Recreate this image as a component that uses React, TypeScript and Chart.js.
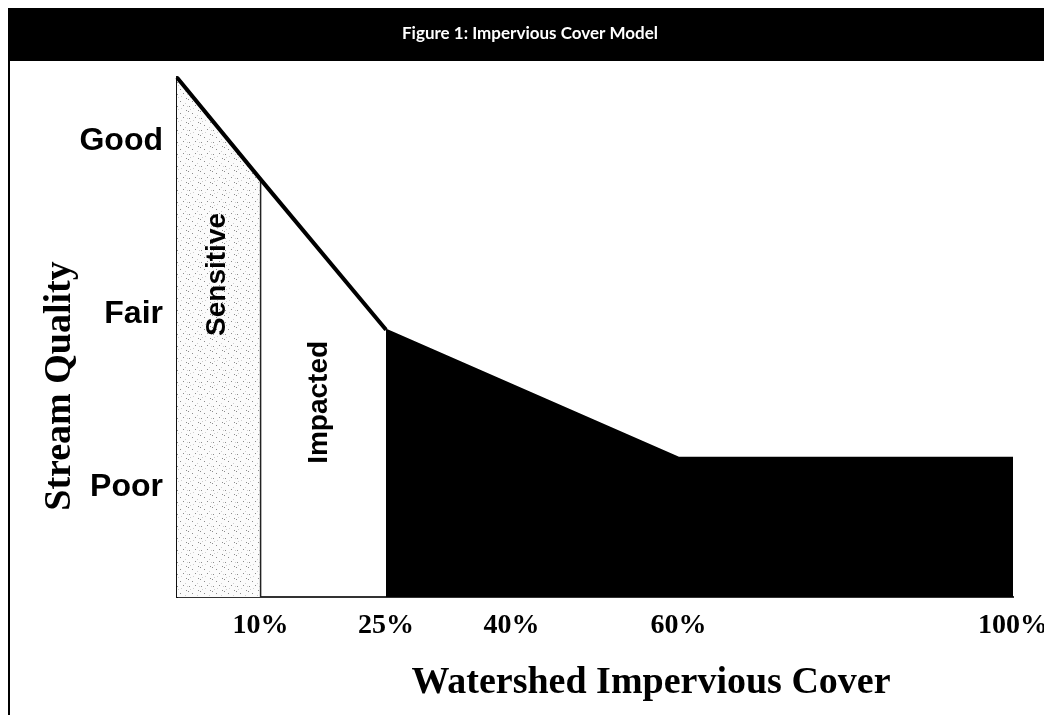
import React, { useEffect, useRef } from "react";
import { Chart, registerables } from "chart.js";

Chart.register(...registerables);

// ---- data ----
const figureTitle = "Figure 1: Impervious Cover Model";
const xAxisTitle = "Watershed Impervious Cover";
const yAxisTitle = "Stream Quality";

const imperviousPct = [0, 10, 25, 60, 100];
const streamQuality = [3.37, 2.78, 1.91, 1.17, 1.17];

const xTickValues = [10, 25, 40, 60, 100];
const qualityTickValues = [1, 2, 3];
const qualityTickNames = ["Poor", "Fair", "Good"];

const zoneNames = ["Sensitive", "Impacted"];
const zoneLabelPct = [4.8, 17.0];
const zoneLabelQuality = [2.23, 1.49];

const qualityMin = 0.364;
const qualityMax = 3.37;

const SERIF = '"Liberation Serif", "Times New Roman", serif';
const SANS = '"Liberation Sans", Arial, sans-serif';

function makeStipple(): CanvasPattern | string {
  const c = document.createElement("canvas");
  c.width = 12;
  c.height = 12;
  const g = c.getContext("2d");
  if (!g) return "#f4f4f4";
  g.fillStyle = "#fbfbfb";
  g.fillRect(0, 0, 12, 12);
  g.fillStyle = "#8c8c8c";
  [[1, 2], [7, 1], [10, 6], [4, 9], [0, 7]].forEach(([x, y]) => g.fillRect(x, y, 1, 1));
  g.fillStyle = "#cfcfcf";
  [[5, 4], [9, 11], [2, 5], [11, 2]].forEach(([x, y]) => g.fillRect(x, y, 1, 1));
  const p = g.createPattern(c, "repeat");
  return p || "#f4f4f4";
}

const framePlugin = {
  id: "frame",
  beforeDraw(chart: any) {
    const { ctx, width, height } = chart;
    ctx.save();
    ctx.fillStyle = "#ffffff";
    ctx.fillRect(0, 0, width, height);
    ctx.fillStyle = "#000000";
    ctx.fillRect(0, 0, width, 53);
    ctx.fillRect(0, 0, 2, height);
    ctx.restore();
  },
  afterDatasetsDraw(chart: any) {
    const { ctx } = chart;
    const xs = chart.scales.x;
    const ys = chart.scales.y;
    ctx.save();
    ctx.fillStyle = "#000";
    ctx.font = `bold 28px ${SANS}`;
    ctx.textAlign = "center";
    ctx.textBaseline = "middle";
    zoneNames.forEach((name, i) => {
      const px = xs.getPixelForValue(zoneLabelPct[i]);
      const py = ys.getPixelForValue(zoneLabelQuality[i]);
      ctx.save();
      ctx.translate(px, py);
      ctx.rotate(-Math.PI / 2);
      ctx.fillText(name, 0, 0);
      ctx.restore();
    });
    ctx.restore();
  },
  afterDraw(chart: any) {
    const { ctx } = chart;
    ctx.save();
    ctx.fillStyle = "#000";
    ctx.font = `bold 38px ${SERIF}`;
    ctx.textAlign = "center";
    ctx.textBaseline = "alphabetic";
    ctx.fillText(xAxisTitle, 643, 685);
    ctx.translate(62, 378);
    ctx.rotate(-Math.PI / 2);
    ctx.fillText(yAxisTitle, 0, 0);
    ctx.restore();
  },
};

export default function App() {
  const ref = useRef<HTMLCanvasElement | null>(null);

  useEffect(() => {
    if (!ref.current) return;
    const pts = imperviousPct.map((x, i) => ({ x, y: streamQuality[i] }));
    const sensitivePts = pts.slice(0, 2);
    const linePts = pts.slice(0, 3);
    const degradedPts = pts.slice(2);
    const dividerPts = [
      { x: pts[1].x, y: qualityMin },
      { x: pts[1].x, y: pts[1].y },
    ];

    const chart = new Chart(ref.current, {
      type: "line",
      data: {
        datasets: [
          {
            label: "Quality",
            data: linePts,
            borderColor: "#000",
            borderWidth: 4,
            pointRadius: 0,
            fill: false,
            tension: 0,
            order: 0,
            clip: false as any,
          },
          {
            label: "Divider",
            data: dividerPts,
            borderColor: "#222",
            borderWidth: 1.5,
            pointRadius: 0,
            fill: false,
            order: 1,
          },
          {
            label: "Non-supporting",
            data: degradedPts,
            borderColor: "#000",
            borderWidth: 2,
            backgroundColor: "#000",
            pointRadius: 0,
            fill: "start",
            tension: 0,
            order: 2,
          },
          {
            label: "Sensitive",
            data: sensitivePts,
            borderWidth: 0,
            borderColor: "rgba(0,0,0,0)",
            backgroundColor: makeStipple() as any,
            pointRadius: 0,
            fill: "start",
            tension: 0,
            order: 3,
          },
        ],
      },
      options: {
        animation: false,
        responsive: false,
        events: [],
        layout: { padding: 0 },
        plugins: {
          legend: { display: false },
          tooltip: { enabled: false },
          title: {
            display: true,
            text: figureTitle,
            color: "#ffffff",
            font: { family: "Lato, sans-serif", size: 17, weight: "bold" },
            padding: { top: 15, bottom: 34 },
          },
        },
        scales: {
          x: {
            type: "linear",
            min: 0,
            max: 100,
            grid: { display: false, drawTicks: false },
            border: { display: true, color: "#333", width: 2 },
            ticks: {
              color: "#000",
              font: { family: SERIF, size: 28, weight: "bold" },
              padding: 12,
              maxRotation: 0,
              autoSkip: false,
              callback: (v: any) => `${v}%`,
            },
            afterBuildTicks: (s: any) => {
              s.ticks = xTickValues.map((v) => ({ value: v }));
            },
            afterFit: (s: any) => {
              s.height = 118;
              s.paddingLeft = 0;
              s.paddingRight = 39;
            },
          },
          y: {
            type: "linear",
            min: qualityMin,
            max: qualityMax,
            grid: { display: false, drawTicks: false },
            border: { display: true, color: "#111", width: 2 },
            ticks: {
              color: "#000",
              font: { family: SANS, size: 32, weight: "bold" },
              padding: 14,
              autoSkip: false,
              callback: (v: any) => {
                const i = qualityTickValues.indexOf(Number(v));
                return i >= 0 ? qualityTickNames[i] : "";
              },
            },
            afterBuildTicks: (s: any) => {
              s.ticks = qualityTickValues.map((v) => ({ value: v }));
            },
            afterFit: (s: any) => {
              s.width = 169;
              s.paddingTop = 0;
              s.paddingBottom = 0;
            },
          },
        },
      } as any,
      plugins: [framePlugin],
    });
    return () => chart.destroy();
  }, []);

  return (
    <div style={{ width: 1044, height: 707 }}>
      <canvas ref={ref} width={1044} height={707} style={{ display: "block" }} />
    </div>
  );
}
